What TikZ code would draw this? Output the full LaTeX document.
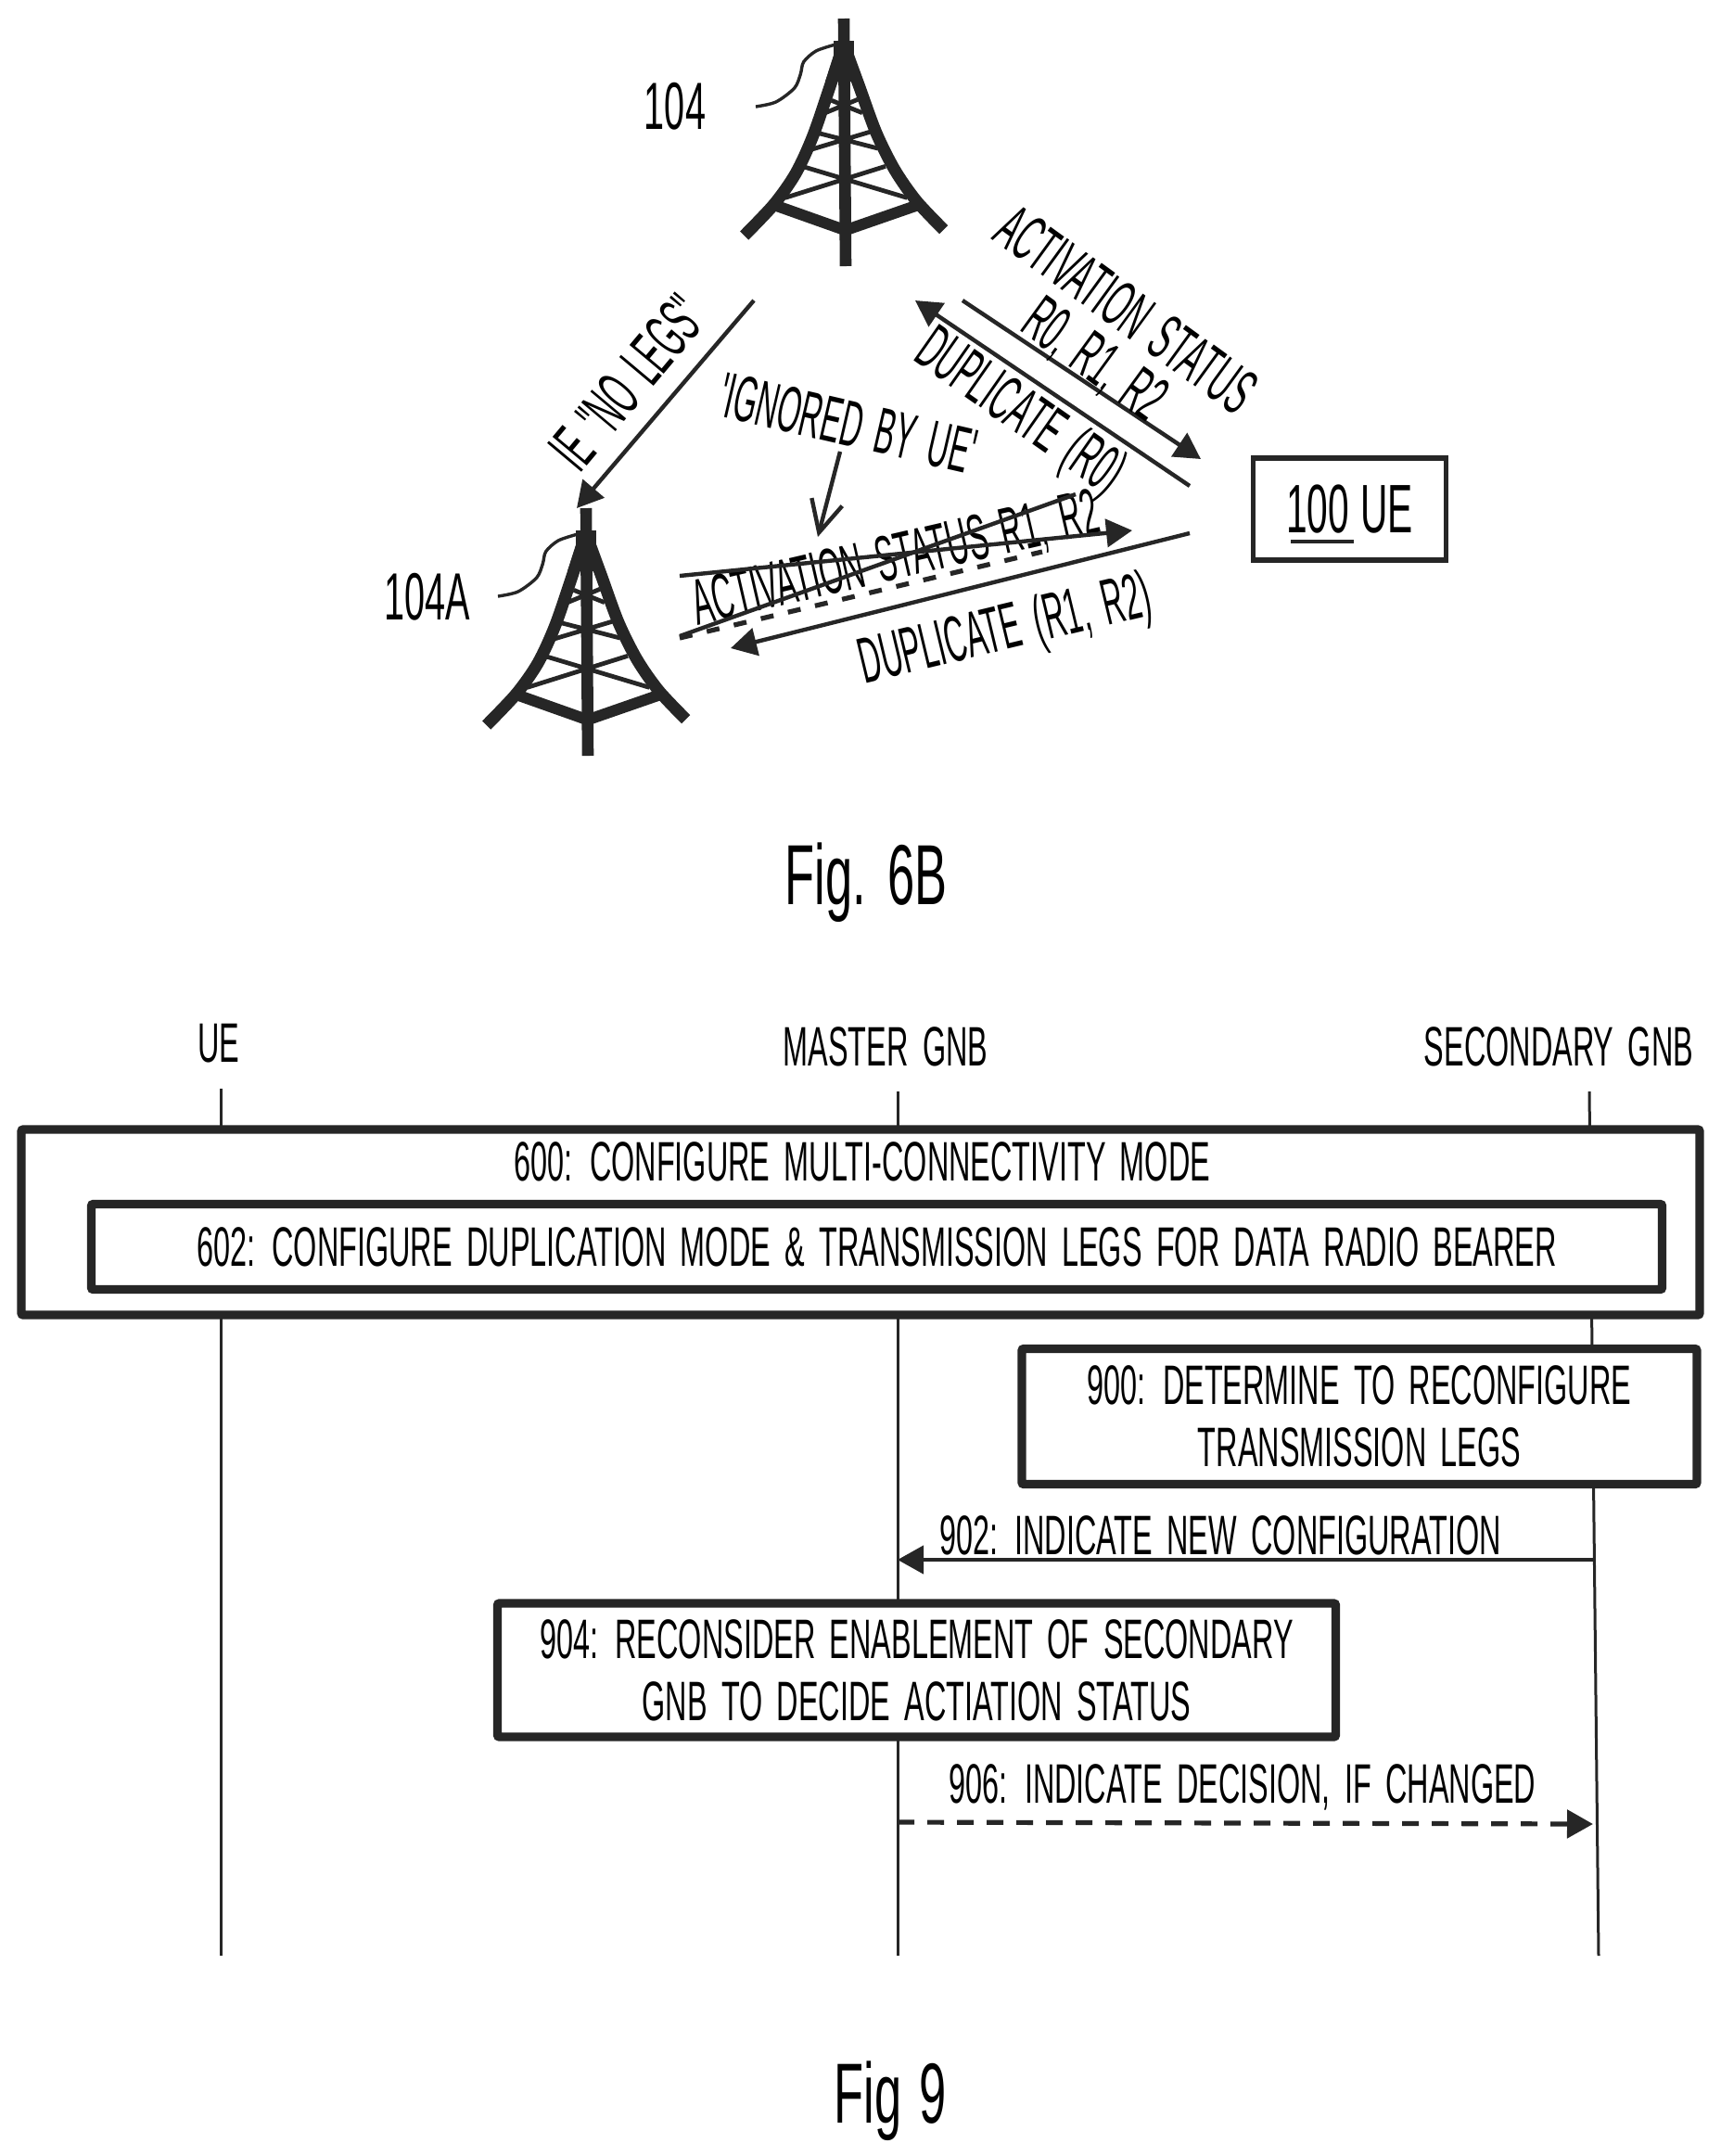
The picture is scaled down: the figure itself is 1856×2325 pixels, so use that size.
\documentclass[tikz,border=0pt]{standalone}
\usepackage{fontspec}
\usetikzlibrary{arrows.meta}
\setmainfont{Liberation Sans}
\newfontfamily\lowf[FakeStretch=0.54,WordSpace=1.7]{Liberation Sans}
\newfontfamily\topf[FakeStretch=0.46,WordSpace=1.7]{Liberation Sans}
\newfontfamily\numf[FakeStretch=0.55,WordSpace=1.7]{Liberation Sans}
\newfontfamily\figf[FakeStretch=0.57,WordSpace=1.3]{Liberation Sans}
\tikzset{
  lowtext/.style={inner sep=0pt,font=\lowf\fontsize{30}{33.5}\selectfont,text height=21pt,text depth=0pt},
  toptext/.style={inner sep=0pt,font=\topf\fontsize{35}{38}\selectfont,text height=24.5pt,text depth=0pt},
  numtext/.style={inner sep=0pt,font=\numf\fontsize{36}{38}\selectfont,text height=24.5pt,text depth=0pt},
  figtext/.style={inner sep=0pt,anchor=base,font=\figf\fontsize{46}{50}\selectfont},
  boxthick/.style={draw=black!85,line width=4.6pt,fill=white,rounded corners=1pt,inner sep=0pt,font=\lowf\fontsize{30}{33.5}\selectfont,align=center},
  life/.style={draw=black!85,line width=1.5pt},
  msg/.style={draw=black!85,line width=2.2pt},
  dashmsg/.style={draw=black!85,line width=2.6pt,dash pattern=on 9pt off 7pt},
  head/.style={-{Triangle[length=14pt,width=15pt,color=black!85]}},
  barb/.style={-{Straight Barb[length=17pt,width=17pt,color=black!85]}},
  tower/.pic={
    \draw[black!85,line width=6.3pt] (910,20) -- (912,287);
    \fill[black!85] (899,44) rectangle (921,62);
    \fill[black!85] (899.3,60) -- (920.7,60) -- (928.3,88) -- (890,88) -- cycle;
    \draw[black!85,line width=6.5pt] plot[smooth] coordinates {(906.7,56.7) (895,93.3) (876.7,146.7) (858.3,186.7) (835,220) (802.7,254)};
    \draw[black!85,line width=6.5pt] plot[smooth] coordinates {(913.3,56.7) (926.7,93.3) (945,143.3) (965,183.3) (988.3,216.7) (1017.7,247.7)};
    \draw[black!85,line width=6pt] (836.7,221.7) -- (911.7,248.3) -- (988.3,221.7);
    \draw[black!85,line width=2.4pt] (865,179.3) -- (978.3,213.3) (955,179.3) -- (846.7,213.3);
    \draw[black!85,line width=2.4pt] (881.7,143.3) -- (946.7,160) (940,141.7) -- (873.3,161.7);
    \draw[black!85,line width=2.4pt] (896.7,108.3) -- (930,121.7) (925,107.3) -- (890,121.7);
    \draw[black!85,line width=1.7pt] plot[smooth] coordinates {(815,115) (836.7,110) (856.7,95) (863.3,80) (866.7,66.7) (880,55) (900,48.3)};
  }
}
\begin{document}
\begin{tikzpicture}[x=0.5pt,y=-0.5pt]
\path[fill=white,use as bounding box] (0,0) rectangle (1856,2325);
% --- Fig 6B
\pic at (0,0) {tower};
\pic at (-278,528) {tower};
\node[numtext] (l104) at (728,115) {104};
\node[numtext] (l104a) at (461,644) {104A};
\node[draw=black!85,line width=2.8pt,minimum width=104pt,minimum height=55pt,inner sep=0pt] (ue) at (1455.5,549) {};
\node[numtext,font=\numf\fontsize{37}{38}\selectfont] (uetext) at (1455.5,550) {100\hspace{6pt}UE};
\coordinate (ulA) at (1392,584);
\coordinate (ulB) at (1460,584);
\draw[black!85,line width=2.2pt] (ulA) -- (ulB);
% arrows
\coordinate (nlA) at (813,324); \coordinate (nlB) at (622,548);
\draw[msg,head] (nlA) -- (nlB);
\node[toptext,rotate=50] (nolegs) at (677,412) {IE "NO LEGS"};
\node[toptext,rotate=-13] (ignored) at (915,456) {'IGNORED BY UE'};
\coordinate (igA) at (906,487); \coordinate (igB) at (882,579);
\draw[msg,barb] (igA) -- (igB);
\coordinate (asA) at (1038,324); \coordinate (asB) at (1295,495);
\draw[msg,head] (asA) -- (asB);
\coordinate (dpA) at (1283,524); \coordinate (dpB) at (987,324);
\draw[msg,head] (dpA) -- (dpB);
\node[toptext,rotate=-36] (actstat) at (1215,333) {ACTIVATION STATUS};
\node[toptext,rotate=-36] (r012) at (1182,386) {R0, R1, R2};
\node[toptext,rotate=-35] (dup0) at (1102,441) {DUPLICATE (R0)};
\node[toptext,rotate=13] (actstrike) at (965,600) {ACTIVATION STATUS R1, R2};
\coordinate (s1A) at (733,621); \coordinate (s1B) at (1221,572);
\draw[msg,head] (s1A) -- (s1B);
\coordinate (s2A) at (733,686); \coordinate (s2B) at (1160,533);
\draw[msg] (s2A) -- (s2B);
\coordinate (s3A) at (733,688); \coordinate (s3B) at (1124,595);
\draw[dashmsg,dash pattern=on 7pt off 8pt] (s3A) -- (s3B);
\coordinate (d12A) at (1283,575); \coordinate (d12B) at (788,699);
\draw[msg,head] (d12A) -- (d12B);
\node[toptext,rotate=13.5] (dup12) at (1083,676) {DUPLICATE (R1, R2)};
\node[figtext] (fig6b) at (934,975) {Fig. 6B};
% --- Fig 9
\coordinate (ueTop) at (238,1174); \coordinate (ueBot) at (238,2109);
\coordinate (mTop) at (968,1177); \coordinate (mBot) at (968,2109);
\coordinate (sTop) at (1714,1177); \coordinate (sBot) at (1724,2109);
\draw[life] (ueTop) -- (ueBot);
\draw[life] (mTop) -- (mBot);
\draw[life] (sTop) -- (sBot);
\node[lowtext] (hUE) at (236,1124) {UE};
\node[lowtext] (hM) at (955,1128) {MASTER GNB};
\node[lowtext] (hS) at (1681,1128) {SECONDARY GNB};
\node[boxthick,minimum width=905pt,minimum height=100pt] (b600) at (928,1318) {};
\node[lowtext] (t600) at (930,1252) {600: CONFIGURE MULTI-CONNECTIVITY MODE};
\node[boxthick,minimum width=847pt,minimum height=46pt] (b602) at (945.5,1344.5) {602: CONFIGURE DUPLICATION MODE \& TRANSMISSION LEGS FOR DATA RADIO BEARER};
\node[boxthick,minimum width=364pt,minimum height=73pt] (b900) at (1466,1527.5) {900: DETERMINE TO RECONFIGURE\\TRANSMISSION LEGS};
\coordinate (m902A) at (1719,1682); \coordinate (m902B) at (968,1682);
\draw[msg,head] (m902A) -- (m902B);
\node[lowtext] (t902) at (1316,1655) {902: INDICATE NEW CONFIGURATION};
\node[boxthick,minimum width=452pt,minimum height=72pt] (b904) at (988.5,1801) {904: RECONSIDER ENABLEMENT OF SECONDARY\\GNB TO DECIDE ACTIATION STATUS};
\node[lowtext] (t906) at (1340,1923) {906: INDICATE DECISION, IF CHANGED};
\coordinate (m906A) at (968,1965); \coordinate (m906B) at (1718,1967);
\draw[dashmsg,head] (m906A) -- (m906B);
\node[figtext] (fig9) at (960,2289) {Fig 9};
\end{tikzpicture}
\end{document}
